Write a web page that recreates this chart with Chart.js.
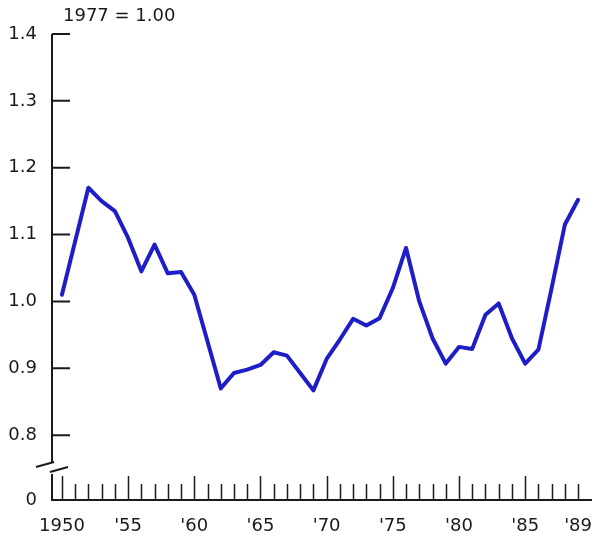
<!DOCTYPE html>
<html>
<head>
<meta charset="utf-8">
<script src="https://cdn.jsdelivr.net/npm/chart.js@4"></script>
<style>
  html, body { margin: 0; padding: 0; background: #fff; }
  #wrap { width: 595px; height: 544px; }
</style>
</head>
<body>
<div id="wrap"><canvas id="canvas" width="595" height="544"></canvas></div>
<script>
const years = [1950,1951,1952,1953,1954,1955,1956,1957,1958,1959,
  1960,1961,1962,1963,1964,1965,1966,1967,1968,1969,
  1970,1971,1972,1973,1974,1975,1976,1977,1978,1979,
  1980,1981,1982,1983,1984,1985,1986,1987,1988,1989]
const values = [1.01,1.09,1.17,1.15,1.135,1.095,1.045,1.085,1.042,1.044,
  1.01,0.94,0.87,0.893,0.898,0.905,0.924,0.919,0.893,0.867,
  0.914,0.943,0.974,0.964,0.975,1.02,1.08,1.00,0.945,0.907,
  0.932,0.929,0.98,0.997,0.945,0.907,0.928,1.02,1.115,1.152]
const yTicks = [0.8,0.9,1.0,1.1,1.2,1.3,1.4]
const xTicks = [1950,1955,1960,1965,1970,1975,1980,1985,1989]
const xLabels = ['1950',"'55","'60","'65","'70","'75","'80","'85","'89"]
const baseNote = '1977 = 1.00'

const yMin = 0.703
const fontFamily = '"DejaVu Sans", sans-serif'
const ink = '#1a1a1a'

// axes, tick marks, scale break and note
const axisPlugin = {
  id: 'axisPlugin',
  afterDraw(chart) {
    const ctx = chart.ctx
    const x = chart.scales.x
    const y = chart.scales.y
    const left = chart.chartArea.left
    const bottom = y.getPixelForValue(yMin)
    ctx.save()
    ctx.strokeStyle = ink
    ctx.lineWidth = 2
    ctx.beginPath()
    // y axis, upper part
    ctx.moveTo(left, y.getPixelForValue(1.4))
    ctx.lineTo(left, 462)
    // lower part
    ctx.moveTo(left, 474)
    ctx.lineTo(left, bottom)
    // x axis
    ctx.lineTo(chart.chartArea.right, bottom)
    // y ticks
    yTicks.forEach(v => {
      const py = y.getPixelForValue(v)
      ctx.moveTo(left, py)
      ctx.lineTo(left + 18, py)
    })
    ctx.stroke()
    // year ticks
    ctx.lineWidth = 1.5
    ctx.beginPath()
    for (let yr = years[0]; yr <= years[years.length - 1]; yr++) {
      const px = Math.round(x.getPixelForValue(yr)) + 0.5
      const h = yr % 5 === 0 ? 24 : 16
      ctx.moveTo(px, bottom)
      ctx.lineTo(px, bottom - h)
    }
    ctx.stroke()
    // break marks
    ctx.lineWidth = 2
    ctx.beginPath()
    ctx.moveTo(left - 16, 467)
    ctx.lineTo(left + 2, 462)
    ctx.moveTo(left - 2, 472)
    ctx.lineTo(left + 16, 467)
    ctx.stroke()
    ctx.fillStyle = ink
    ctx.font = '18px ' + fontFamily
    ctx.textBaseline = 'middle'
    ctx.textAlign = 'left'
    ctx.fillText(baseNote, 63, 16)
    ctx.restore()
  }
}

const data = {
  datasets: [{
    data: years.map((yr, i) => ({ x: yr, y: values[i] })),
    borderColor: '#1e1ec8',
    borderWidth: 4,
    pointRadius: 0,
    tension: 0,
    borderJoinStyle: 'round',
    borderCapStyle: 'round',
  }]
}

const config = {
  type: 'line',
  data: data,
  plugins: [axisPlugin],
  options: {
    responsive: false,
    animation: false,
    layout: { padding: { left: 8, top: 34, right: 3, bottom: 0 } },
    plugins: { legend: { display: false }, tooltip: { enabled: false } },
    scales: {
      x: {
        type: 'linear',
        min: 1949.25,
        max: 1990.05,
        grid: { display: false, drawTicks: false },
        border: { display: false },
        afterBuildTicks: s => { s.ticks = xTicks.map(v => ({ value: v })) },
        afterFit: s => { s.height = 44; s.paddingLeft = 0; s.paddingRight = 0 },
        ticks: {
          padding: 16,
          color: ink,
          font: { family: fontFamily, size: 18 },
          maxRotation: 0,
          autoSkip: false,
          callback: (v) => xLabels[xTicks.indexOf(v)]
        }
      },
      y: {
        min: yMin,
        max: 1.4,
        grid: { display: false, drawTicks: false },
        border: { display: false },
        afterBuildTicks: s => { s.ticks = [yMin].concat(yTicks).map(v => ({ value: v })) },
        afterFit: s => { s.width = 44 },
        ticks: {
          padding: 15,
          color: ink,
          font: { family: fontFamily, size: 18 },
          callback: (v) => v < 0.75 ? '0' : v.toFixed(1)
        }
      }
    }
  }
}

const canvas = document.getElementById('canvas')
const chart = new Chart(canvas, config)
</script>
</body>
</html>
